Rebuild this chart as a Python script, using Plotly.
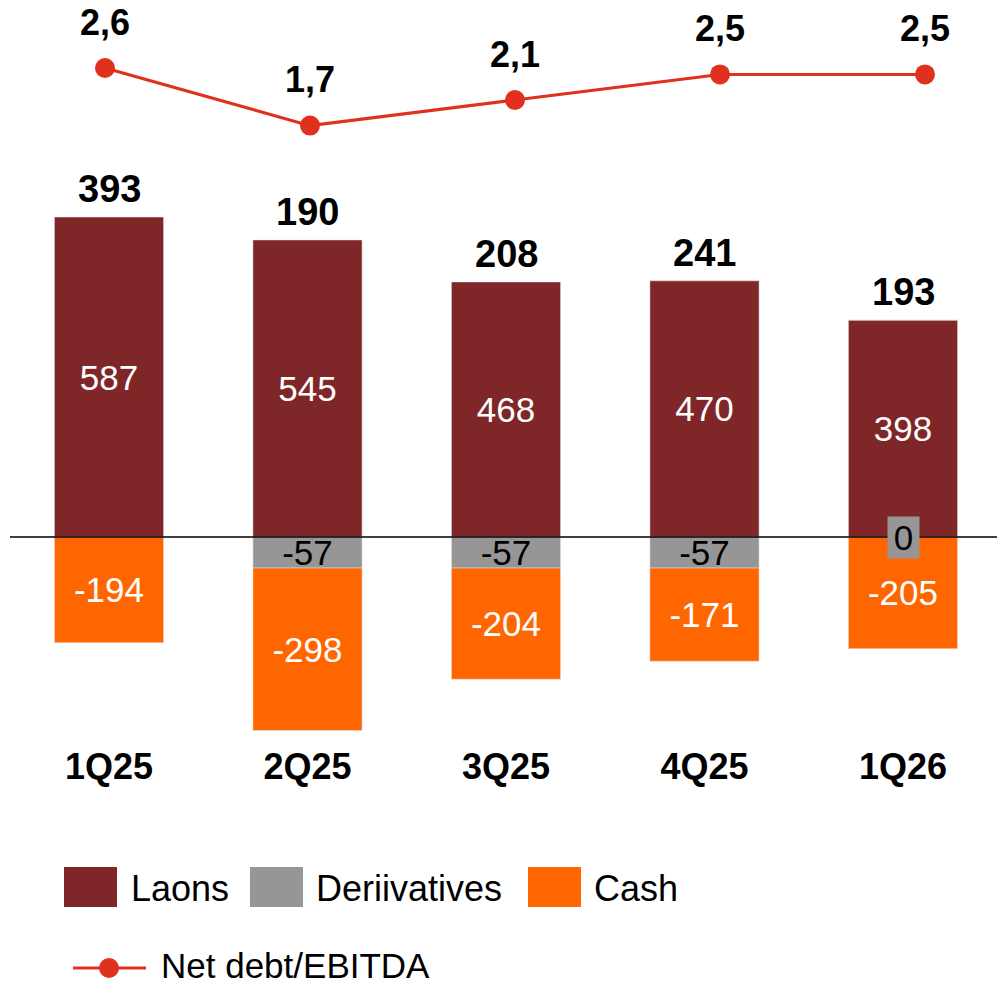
import plotly.graph_objects as go

quarters = ["1Q25", "2Q25", "3Q25", "4Q25", "1Q26"]
loans = [587, 545, 468, 470, 398]
derivatives = [None, -57, -57, -57, 0]
cash = [-194, -298, -204, -171, -205]
net_debt = [393, 190, 208, 241, 193]
ratio = [2.6, 1.7, 2.1, 2.5, 2.5]

c_loans = "#7F2628"
c_deriv = "#969696"
c_cash = "#FF6600"
c_line = "#E0301E"
font = "Liberation Sans, Arial, sans-serif"

W, H = 997, 985
L = 10


def px(x):
    return (x - L) / (W - L)


def py(y):
    return 1 - y / H


fig = go.Figure()

fig.add_trace(go.Bar(x=quarters, y=loans, name="Laons", marker_color=c_loans,
                     text=[str(v) for v in loans], textposition="inside",
                     insidetextanchor="middle", constraintext="none",
                     textfont=dict(color="white", size=35, family=font), width=0.55))
fig.add_trace(go.Bar(x=quarters, y=derivatives, name="Deriivatives", marker_color=c_deriv,
                     text=[str(v) if v else "" for v in derivatives], textposition="inside",
                     insidetextanchor="middle", constraintext="none",
                     textfont=dict(color="black", size=35, family=font), width=0.55))
fig.add_trace(go.Bar(x=quarters, y=cash, name="Cash", marker_color=c_cash,
                     text=[str(v) for v in cash], textposition="inside",
                     insidetextanchor="middle", constraintext="none",
                     textfont=dict(color="white", size=35, family=font), width=0.55))

fig.add_trace(go.Scatter(x=quarters, y=ratio, name="Net debt/EBITDA", mode="lines+markers",
                         line=dict(color=c_line, width=3), marker=dict(size=20, color=c_line),
                         xaxis="x2", yaxis="y2"))

# totals above bars
for q, top, tot in zip(quarters, loans, net_debt):
    fig.add_annotation(x=q, y=top, text="<b>%d</b>" % tot, showarrow=False,
                       yanchor="middle", yshift=28,
                       font=dict(size=38, color="black", family=font))

# zero derivatives label
for q, d in zip(quarters, derivatives):
    if d == 0:
        fig.add_annotation(x=q, y=d, text="0", showarrow=False, bgcolor=c_deriv,
                           width=31, height=41, borderpad=0,
                           font=dict(size=35, color="black", family=font))

# ratio labels
for q, r in zip(quarters, ratio):
    fig.add_annotation(x=q, y=r, xref="x2", yref="y2", text="<b>%s</b>" % str(r).replace(".", ","),
                       showarrow=False, yanchor="middle", yshift=46,
                       font=dict(size=36, color="black", family=font))

# zero line
fig.add_shape(type="line", xref="paper", yref="y", x0=0, x1=1, y0=0, y1=0,
              line=dict(color="black", width=1.5), layer="above")

# legend drawn by hand
legend_items = [("Laons", c_loans, 64, 117, 129),
                ("Deriivatives", c_deriv, 250, 303, 314),
                ("Cash", c_cash, 528, 581, 592)]
for name, col, x0, x1, tx in legend_items:
    fig.add_shape(type="rect", xref="paper", yref="paper", x0=px(x0), x1=px(x1),
                  y0=py(907), y1=py(867), fillcolor=col, line=dict(width=0))
    fig.add_annotation(xref="paper", yref="paper", x=px(tx), y=py(888), text=name,
                       showarrow=False, xanchor="left", yanchor="middle",
                       font=dict(size=36, color="black", family=font))
fig.add_shape(type="line", xref="paper", yref="paper", x0=px(73), x1=px(146),
              y0=py(968), y1=py(968), line=dict(color=c_line, width=3))
fig.add_shape(type="circle", xref="paper", yref="paper", x0=px(99), x1=px(119),
              y0=py(978), y1=py(958), fillcolor=c_line, line=dict(width=0))
fig.add_annotation(xref="paper", yref="paper", x=px(159), y=py(965), text="Net debt/EBITDA",
                   showarrow=False, xanchor="left", yanchor="middle",
                   font=dict(size=35, color="black", family=font))

bottom = 742
fig.update_layout(
    width=W, height=H, margin=dict(l=L, r=0, t=0, b=0),
    paper_bgcolor="white", plot_bgcolor="white",
    barmode="relative", showlegend=False,
    xaxis=dict(type="category", range=[(L - 109) / 198.5, (W - 109) / 198.5],
               showgrid=False, showline=False, zeroline=False, ticks="",
               tickfont=dict(size=36, color="black", family=font, weight="bold")),
    yaxis=dict(domain=[py(bottom), 1], range=[-(bottom - 537) / 0.545, 537 / 0.545],
               visible=False, showgrid=False, zeroline=False),
    xaxis2=dict(type="category", overlaying="x", anchor="y2",
                range=[(L - 105) / 205, (W - 105) / 205], visible=False),
    yaxis2=dict(overlaying="y", range=[2.6 - (bottom - 68) / 64, 2.6 + 68 / 64],
                visible=False, showgrid=False, zeroline=False),
)

fig.write_html("out.html", config={"displayModeBar": False},
               post_script="document.body.style.margin='0';")
